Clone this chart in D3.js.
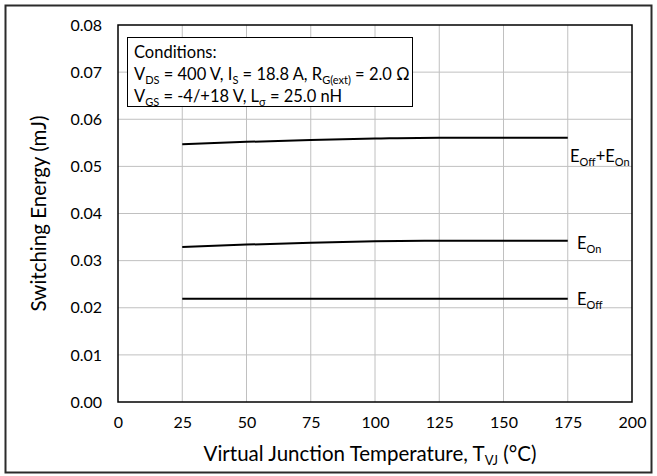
<!DOCTYPE html>
<html>
<head>
<meta charset="utf-8">
<script src="https://cdn.jsdelivr.net/npm/d3@7/dist/d3.min.js"></script>
<style>
  html, body { margin: 0; padding: 0; background: #fff; }
  svg { display: block; font-family: Lato, "Open Sans", sans-serif; }
</style>
</head>
<body>
<svg id="chart" width="657" height="476"></svg>
<script>
// Switching energy vs. virtual junction temperature
const temps = [25, 50, 75, 100, 125, 150, 175];
const eSum  = [0.0547, 0.0552, 0.0556, 0.0559, 0.0561, 0.0561, 0.0561];
const eOn   = [0.0329, 0.0334, 0.0338, 0.0341, 0.0342, 0.0342, 0.0342];
const eOff  = [0.0219, 0.0219, 0.0219, 0.0219, 0.0219, 0.0219, 0.0219];
const xTicks = [0, 25, 50, 75, 100, 125, 150, 175, 200];
const yTicks = [0, 0.01, 0.02, 0.03, 0.04, 0.05, 0.06, 0.07, 0.08];

const FONT = "Lato, 'Open Sans', sans-serif";
const svg = d3.select("#chart");
const m = { left: 118, right: 632, top: 25, bottom: 402 };

const x = d3.scaleLinear().domain([0, 200]).range([m.left, m.right]);
const y = d3.scaleLinear().domain([0, 0.08]).range([m.bottom, m.top]);

// outer frame
svg.append("rect")
  .attr("x", 5.5).attr("y", 5.5).attr("width", 646).attr("height", 467)
  .attr("fill", "none").attr("stroke", "#2b2b2b").attr("stroke-width", 2);

// grid
const grid = svg.append("g");
grid.selectAll("line.gx").data(xTicks.slice(1, -1)).join("line")
  .attr("x1", d => x(d)).attr("x2", d => x(d))
  .attr("y1", m.top).attr("y2", m.bottom)
  .attr("stroke", "#c0c0c0").attr("stroke-width", 1);
grid.selectAll("line.gy").data(yTicks.slice(1, -1)).join("line")
  .attr("x1", m.left).attr("x2", m.right)
  .attr("y1", d => y(d)).attr("y2", d => y(d))
  .attr("stroke", "#c0c0c0").attr("stroke-width", 1);

// plot border
svg.append("rect")
  .attr("x", m.left).attr("y", m.top)
  .attr("width", m.right - m.left).attr("height", m.bottom - m.top)
  .attr("fill", "none").attr("stroke", "#000").attr("stroke-width", 1.5);

// axes (labels only)
const xAxis = d3.axisBottom(x).tickValues(xTicks).tickSize(0).tickPadding(15)
  .tickFormat(d3.format("d"));
const gx = svg.append("g").attr("transform", `translate(0,${m.bottom})`).call(xAxis);
gx.select(".domain").remove();
gx.selectAll("text").attr("font-size", 16).attr("fill", "#000").attr("font-family", FONT);

const yAxis = d3.axisLeft(y).tickValues(yTicks).tickSize(0).tickPadding(16)
  .tickFormat(d3.format(".2f"));
const gy = svg.append("g").attr("transform", `translate(${m.left},0)`).call(yAxis);
gy.select(".domain").remove();
gy.selectAll("text").attr("font-size", 16).attr("fill", "#000").attr("font-family", FONT);

// text with subscripts: parts are [text, isSub]
function richText(t, parts, size, subSize) {
  parts.forEach(([txt, sub], i) => {
    const prevSub = i > 0 && parts[i - 1][1];
    t.append("tspan").attr("font-size", sub ? subSize : size)
      .attr("dy", sub ? 4 : (prevSub ? -4 : 0)).text(txt);
  });
  return t;
}

// axis titles
richText(svg.append("text").attr("x", 370).attr("y", 461).attr("text-anchor", "middle"),
  [["Virtual Junction Temperature, T"], ["VJ", 1], [" (°C)"]], 20.5, 13);

svg.append("text")
  .attr("transform", `translate(46,${(m.top + m.bottom) / 2}) rotate(-90)`)
  .attr("text-anchor", "middle").attr("font-size", 20.5)
  .text("Switching Energy (mJ)");

// curves
const line = d3.line().x((d, i) => x(temps[i])).y(d => y(d)).curve(d3.curveMonotoneX);
[eSum, eOn, eOff].forEach(s => {
  svg.append("path").datum(s).attr("d", line)
    .attr("fill", "none").attr("stroke", "#000").attr("stroke-width", 2);
});

// series labels
richText(svg.append("text").attr("x", 570).attr("y", 162), [["E"], ["Off", 1], ["+E"], ["On", 1]], 16.5, 11);
richText(svg.append("text").attr("x", 577).attr("y", 249), [["E"], ["On", 1]], 16.5, 11);
richText(svg.append("text").attr("x", 577).attr("y", 305), [["E"], ["Off", 1]], 16.5, 11);

// conditions box
const box = svg.append("g");
box.append("rect").attr("x", 127.5).attr("y", 37.5).attr("width", 285).attr("height", 69)
  .attr("fill", "#fff").attr("stroke", "#000").attr("stroke-width", 1);
box.append("text").attr("x", 134).attr("y", 58).attr("font-size", 16.5).text("Conditions:");
richText(box.append("text").attr("x", 134).attr("y", 80),
  [["V"], ["DS", 1], [" = 400 V, I"], ["S", 1], [" = 18.8 A, R"], ["G(ext)", 1], [" = 2.0 Ω"]], 16.5, 11);
richText(box.append("text").attr("x", 134).attr("y", 102),
  [["V"], ["GS", 1], [" = -4/+18 V, L"], ["σ", 1], [" = 25.0 nH"]], 16.5, 11);
</script>
</body>
</html>
